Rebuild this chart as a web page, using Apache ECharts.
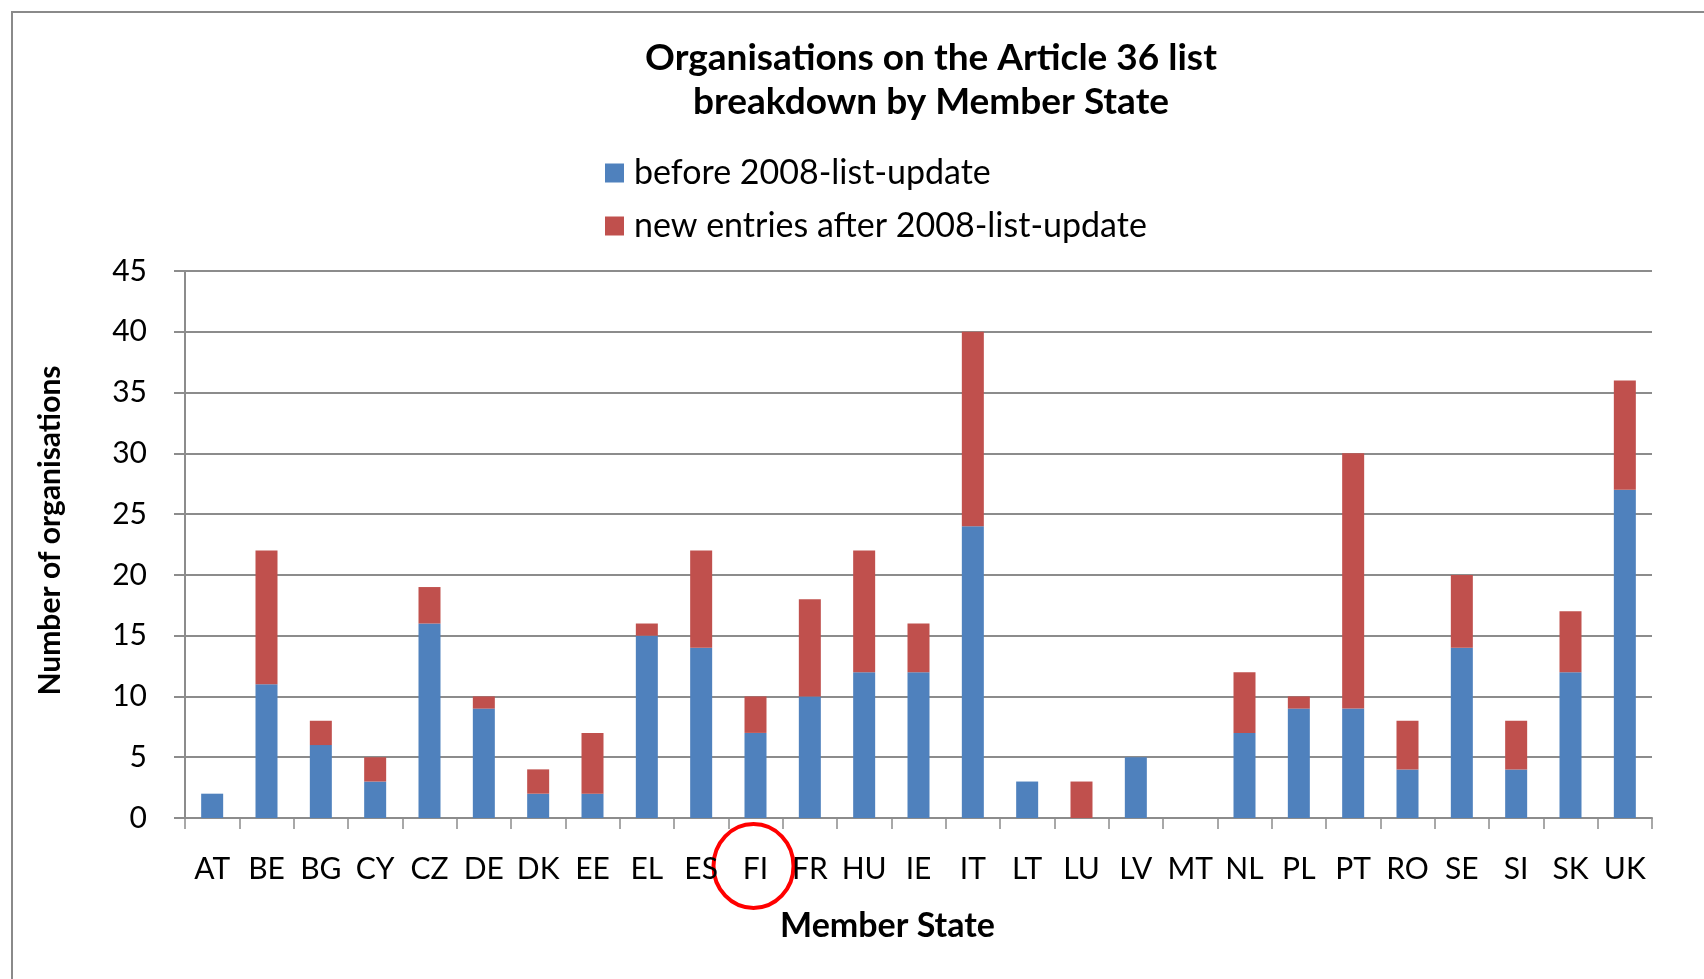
<!DOCTYPE html>
<html>
<head>
<meta charset="utf-8">
<script src="https://cdn.jsdelivr.net/npm/echarts@6/dist/echarts.min.js"></script>
<style>
  html, body { margin: 0; padding: 0; background: #fff; }
  #chart { width: 1704px; height: 979px; }
</style>
</head>
<body>
<div id="chart"></div>
<script>
var states = ['AT', 'BE', 'BG', 'CY', 'CZ', 'DE', 'DK', 'EE', 'EL', 'ES', 'FI', 'FR', 'HU', 'IE',
  'IT', 'LT', 'LU', 'LV', 'MT', 'NL', 'PL', 'PT', 'RO', 'SE', 'SI', 'SK', 'UK'];
var before2008 = [2, 11, 6, 3, 16, 9, 2, 2, 15, 14, 7, 10, 12, 12, 24, 3, 0, 5, 0, 7, 9, 9, 4, 14, 4, 12, 27];
var newEntries = [0, 11, 2, 2, 3, 1, 2, 5, 1, 8, 3, 8, 10, 4, 16, 0, 3, 0, 0, 5, 1, 21, 4, 6, 4, 5, 9];
var yTicks = [0, 5, 10, 15, 20, 25, 30, 35, 40, 45];

var font = 'Lato, "Open Sans", sans-serif';
var grey = '#8c8c8c';

document.addEventListener('DOMContentLoaded', function()
{
  var chart = echarts.init(document.getElementById('chart'));

  var option = {
    animation: false,
    textStyle: { fontFamily: font },
    title: {
      text: 'Organisations on the Article 36 list\nbreakdown by Member State',
      left: 926,
      textAlign: 'center',
      top: 31,
      textStyle: { fontSize: 37, fontWeight: 'bold', color: '#000', lineHeight: 44, fontFamily: font }
    },
    legend: {
      orient: 'vertical',
      left: 600,
      top: 151,
      icon: 'rect',
      itemWidth: 19,
      itemHeight: 19,
      itemGap: 19,
      textStyle: { fontSize: 34, color: '#000', fontFamily: font, padding: [0, 0, 0, 5] },
      data: ['before 2008-list-update', 'new entries after 2008-list-update']
    },
    grid: { left: 185, right: 52, top: 271, bottom: 161 },
    xAxis: {
      type: 'category',
      data: states,
      name: 'Member State',
      nameLocation: 'middle',
      nameGap: 91,
      nameTextStyle: { fontSize: 34, fontWeight: 'bold', color: '#000', padding: [0, 62, 0, 0] },
      axisLine: { lineStyle: { color: grey, width: 2 } },
      axisTick: { show: true, length: 11, lineStyle: { color: grey, width: 1.5 } },
      axisLabel: { fontSize: 30, color: '#000', margin: 36, interval: 0 }
    },
    yAxis: {
      type: 'value',
      min: yTicks[0],
      max: yTicks[yTicks.length - 1],
      interval: yTicks[1] - yTicks[0],
      name: 'Number of organisations',
      nameLocation: 'middle',
      nameGap: 120,
      nameRotate: 90,
      nameTextStyle: { fontSize: 30, fontWeight: 'bold', color: '#000', padding: [0, 0, 0, 28] },
      axisLine: { show: true, lineStyle: { color: grey, width: 2 } },
      axisTick: { show: true, length: 11, lineStyle: { color: grey, width: 2 } },
      axisLabel: { fontSize: 30, color: '#000', margin: 38 },
      splitLine: { lineStyle: { color: grey, width: 2 } }
    },
    series: [
      {
        name: 'before 2008-list-update',
        type: 'bar',
        stack: 'orgs',
        data: before2008,
        barWidth: 22,
        itemStyle: { color: '#4F81BD' }
      },
      {
        name: 'new entries after 2008-list-update',
        type: 'bar',
        stack: 'orgs',
        data: newEntries,
        barWidth: 22,
        itemStyle: { color: '#C0504D' }
      }
    ]
  };

  chart.setOption(option);

  // frame of the original chart area and the red circle around FI
  var fi = chart.convertToPixel({ xAxisIndex: 0 }, 'FI');
  var zeroY = chart.convertToPixel({ yAxisIndex: 0 }, 0);
  chart.setOption({
    graphic: [
      {
        type: 'rect',
        shape: { x: 12, y: 12, width: 2000, height: 2000 },
        style: { fill: null, stroke: '#8a8a8a', lineWidth: 2 },
        silent: true
      },
      {
        type: 'ellipse',
        shape: { cx: fi - 2, cy: zeroY + 48, rx: 40, ry: 42 },
        style: { fill: null, stroke: '#ff0000', lineWidth: 4 },
        silent: true
      }
    ]
  });
});
</script>
</body>
</html>
